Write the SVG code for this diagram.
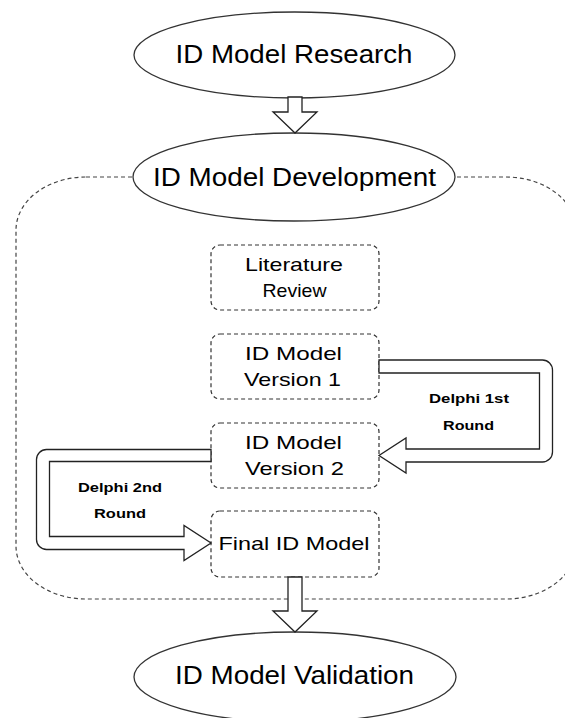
<svg xmlns="http://www.w3.org/2000/svg" width="565" height="718" viewBox="0 0 565 718">
  <style>
    .oval { fill: #fff; stroke: #333; stroke-width: 1.3; }
    .box { fill: none; stroke: #333; stroke-width: 1.2; stroke-dasharray: 4 3; }
    .frame { fill: none; stroke: #444; stroke-width: 1.2; stroke-dasharray: 4 3; }
    .block { fill: #fff; stroke: #222; stroke-width: 1.3; stroke-linejoin: miter; }
    .big { font-family: "Liberation Sans", Arial, sans-serif; font-size: 25px; fill: #000; text-anchor: middle; }
    .mid { font-family: "Liberation Sans", Arial, sans-serif; font-size: 19px; fill: #000; text-anchor: middle; }
    .small { font-family: "Liberation Sans", Arial, sans-serif; font-size: 13.5px; font-weight: bold; fill: #000; text-anchor: middle; }
  </style>

  <!-- development phase container -->
  <path id="dev-frame" class="frame" d="M86,177 H506 A70,53 0 0 1 576,230 V546 A70,53 0 0 1 506,599 H86 A70,53 0 0 1 16,546 V230 A70,53 0 0 1 86,177 Z"/>

  <g id="research">
    <ellipse class="oval" cx="294.5" cy="55" rx="160.5" ry="43"/>
    <text class="big" x="294" y="63" textLength="237" lengthAdjust="spacingAndGlyphs">ID Model Research</text>
  </g>

  <g id="development">
    <ellipse class="oval" cx="294" cy="177" rx="161" ry="44"/>
    <text class="big" x="294.5" y="186" textLength="283" lengthAdjust="spacingAndGlyphs">ID Model Development</text>
  </g>

  <g id="validation">
    <ellipse class="oval" cx="295" cy="677" rx="161" ry="45"/>
    <text class="big" x="294.5" y="684" textLength="239" lengthAdjust="spacingAndGlyphs">ID Model Validation</text>
  </g>

  <g id="literature-review">
    <rect class="box" x="211" y="245" width="168" height="65" rx="9"/>
    <text class="mid" x="294" y="271" textLength="98" lengthAdjust="spacingAndGlyphs">Literature</text>
    <text class="mid" x="294.5" y="297" textLength="64" lengthAdjust="spacingAndGlyphs">Review</text>
  </g>

  <g id="version-1">
    <rect class="box" x="211" y="334" width="168" height="65" rx="9"/>
    <text class="mid" x="293.5" y="360" textLength="97" lengthAdjust="spacingAndGlyphs">ID Model</text>
    <text class="mid" x="292.5" y="386" textLength="97" lengthAdjust="spacingAndGlyphs">Version 1</text>
  </g>

  <g id="version-2">
    <rect class="box" x="211" y="423" width="168" height="65" rx="9"/>
    <text class="mid" x="293.5" y="449" textLength="97" lengthAdjust="spacingAndGlyphs">ID Model</text>
    <text class="mid" x="294.5" y="475" textLength="99" lengthAdjust="spacingAndGlyphs">Version 2</text>
  </g>

  <g id="final-model">
    <rect class="box" x="211" y="511" width="168" height="66" rx="9"/>
    <text class="mid" x="294" y="550" textLength="151" lengthAdjust="spacingAndGlyphs">Final ID Model</text>
  </g>

  <g id="connectors">
    <!-- research to development -->
    <path class="block" d="M288,97 V112 H273 L295,133 L317,112 H302 V97 Z"/>
    <!-- final model to validation -->
    <path class="block" d="M288,577 V611 H273 L295,632 L317,611 H302 V577 Z"/>
    <!-- Delphi 1st round: version 1 to version 2 -->
    <path class="block" d="M379,360 H542.5 A10,10 0 0 1 552.5,370 V452 A10,10 0 0 1 542.5,462 H406 V473 L379,455.5 L406,438 V449 H539.5 V373 H379 Z"/>
    <!-- Delphi 2nd round: version 2 to final model -->
    <path class="block" d="M211,449.5 H46.5 A10,10 0 0 0 36.5,459.5 V539.5 A10,10 0 0 0 46.5,549.5 H184 V560.5 L211,543 L184,525.5 V536.5 H49.5 V461.5 H211 Z"/>
    <text class="small" x="469" y="403" textLength="80" lengthAdjust="spacingAndGlyphs">Delphi 1st</text>
    <text class="small" x="468.5" y="430" textLength="51" lengthAdjust="spacingAndGlyphs">Round</text>
    <text class="small" x="120" y="492" textLength="84" lengthAdjust="spacingAndGlyphs">Delphi 2nd</text>
    <text class="small" x="120" y="518" textLength="52" lengthAdjust="spacingAndGlyphs">Round</text>
  </g>
</svg>
